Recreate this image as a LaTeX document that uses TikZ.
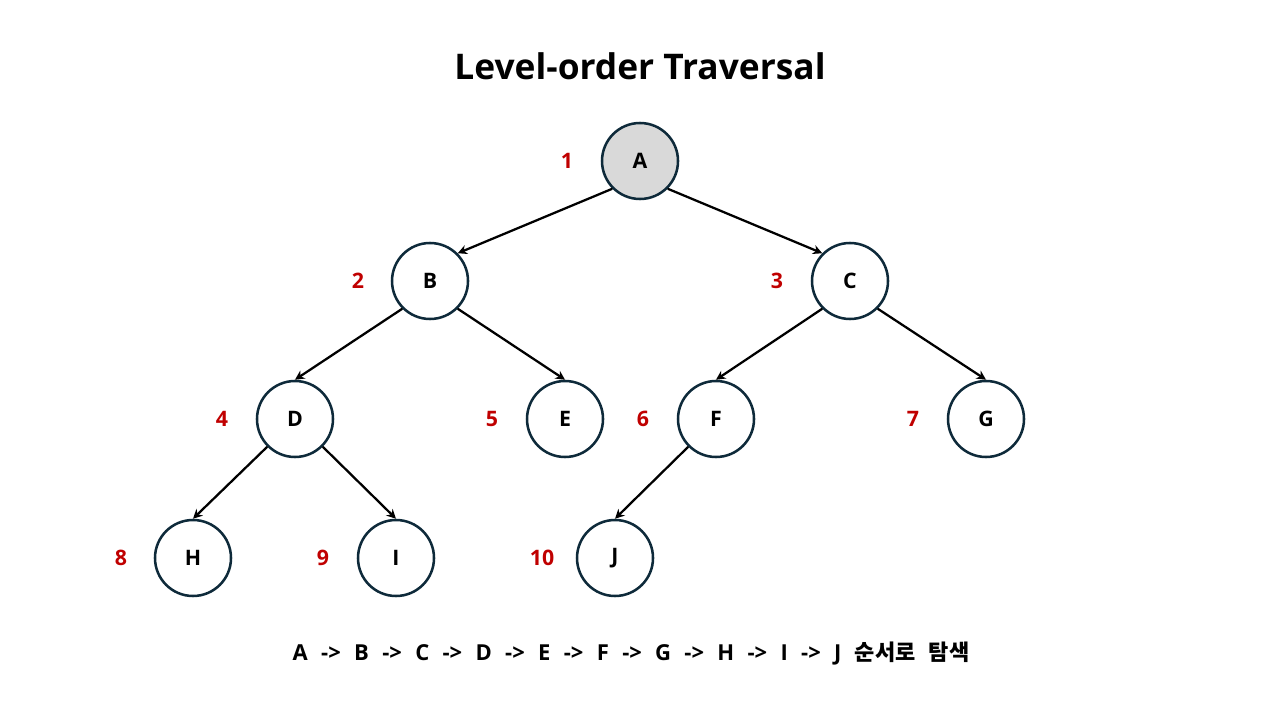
\documentclass[tikz,border=0pt]{standalone}
\usepackage{fontspec}
\setmainfont{Open Sans}[BoldFont={Open Sans Bold}]
\newfontfamily\kr{Noto Sans CJK KR Bold}
\usetikzlibrary{arrows.meta}
\definecolor{nodeborder}{HTML}{0E2A3A}
\definecolor{numred}{HTML}{C00000}
\definecolor{rootfill}{HTML}{D9D9D9}
\begin{document}
\begin{tikzpicture}[x=0.75pt,y=-0.75pt,
  tnode/.style={circle,draw=nodeborder,line width=1.9pt,fill=white,minimum size=57pt,inner sep=0pt,font=\fontsize{16}{19}\selectfont\bfseries},
  num/.style={text=numred,font=\fontsize{16}{19}\selectfont\bfseries},
  edge/.style={line width=1.7pt,-{Stealth[length=7pt,width=7pt]}}]
\useasboundingbox (0,0) rectangle (1280,720);
\node[font=\fontsize{26.5}{31}\selectfont\bfseries] (title) at (640,66) {Level-order Traversal};
\node[tnode,fill=rootfill] (A) at (640,161) {A};
\node[tnode] (B) at (430,281) {B};
\node[tnode] (C) at (850,281) {C};
\node[tnode] (D) at (295,419) {D};
\node[tnode] (E) at (565,419) {E};
\node[tnode] (F) at (716,419) {F};
\node[tnode] (G) at (986,419) {G};
\node[tnode] (H) at (193,558) {H};
\node[tnode] (I) at (396,558) {I};
\node[tnode] (J) at (615,558) {J};
\node[num] (n1) at (567,161) {1};
\node[num] (n2) at (358,281) {2};
\node[num] (n3) at (777,281) {3};
\node[num] (n4) at (222,419) {4};
\node[num] (n5) at (492,419) {5};
\node[num] (n6) at (643,419) {6};
\node[num] (n7) at (913,419) {7};
\node[num] (n8) at (121,558) {8};
\node[num] (n9) at (323,558) {9};
\node[num] (n10) at (542,558) {10};
\draw[edge] (A.south west) -- (B.north east);
\draw[edge] (A.south east) -- (C.north west);
\draw[edge] (B.south west) -- (D.north);
\draw[edge] (B.south east) -- (E.north);
\draw[edge] (C.south west) -- (F.north);
\draw[edge] (C.south east) -- (G.north);
\draw[edge] (D.south west) -- (H.north);
\draw[edge] (D.south east) -- (I.north);
\draw[edge] (F.south west) -- (J.north);
\node[font=\fontsize{16.5}{20}\selectfont\bfseries] (order) at (631,654) {\spaceskip=10pt A -> B -> C -> D -> E -> F -> G -> H -> I -> J {\kr 순서로 탐색}};
\end{tikzpicture}
\end{document}
